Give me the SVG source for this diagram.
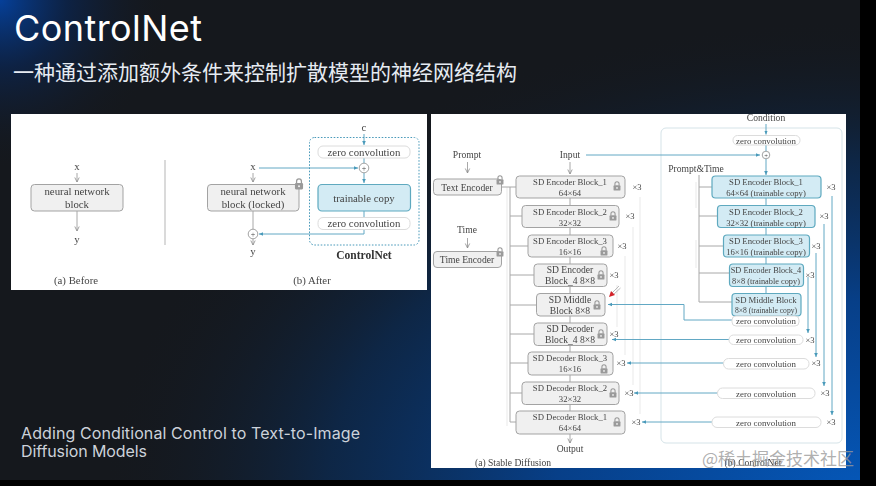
<svg xmlns="http://www.w3.org/2000/svg" width="876" height="486" viewBox="0 0 876 486">
<defs>
<radialGradient id="bgTL" gradientUnits="userSpaceOnUse" cx="0" cy="0" r="170"><stop offset="0" stop-color="#05409a"/><stop offset="0.4" stop-color="#0a2654" stop-opacity=".7"/><stop offset="1" stop-color="#15181d" stop-opacity="0"/></radialGradient>
<radialGradient id="bgBR" gradientUnits="userSpaceOnUse" cx="860" cy="490" r="760" gradientTransform="translate(860 490) scale(1 .62) translate(-860 -490)"><stop offset="0" stop-color="#0557b8"/><stop offset="0.4" stop-color="#073f88"/><stop offset="0.7" stop-color="#0c2a50" stop-opacity=".8"/><stop offset="1" stop-color="#15181d" stop-opacity="0"/></radialGradient>
<filter id="soft" x="0" y="0" width="1" height="1"><feGaussianBlur stdDeviation="0.35"/></filter>
<marker id="ag" markerWidth="7" markerHeight="7" refX="5.500" refY="3" orient="auto" markerUnits="userSpaceOnUse"><path d="M1 .8L5.500 3L1 5.200" fill="none" stroke="#8c8c8c" stroke-width=".8"/></marker>
<marker id="ab" markerWidth="5" markerHeight="5" refX="4" refY="2.500" orient="auto" markerUnits="userSpaceOnUse"><path d="M0 .7L4 2.500L0 4.300z" fill="#4a9aba"/></marker>
<symbol id="lock" viewBox="0 0 10 13" overflow="visible"><path d="M2.300 6V3.600a2.700 2.700 0 0 1 5.400 0V6" fill="none" stroke="#9a9a9a" stroke-width="1.400"/><rect x=".5" y="5.500" width="9" height="7" rx="1.200" fill="#9a9a9a"/><circle cx="5" cy="9" r="1.200" fill="#eee"/></symbol>
</defs>
<style>
text{font-family:"Liberation Serif","Noto Sans CJK SC",serif;fill:#444;text-anchor:middle}
.sm{font-size:8.700px}.lb{font-size:9.600px}.md{font-size:10.800px}.x3{font-size:8.500px}
.zt{font-size:8.900px}
.b{fill:#f0f0f0;stroke:#a3a3a3;stroke-width:1}
.t{fill:#d3ebf4;stroke:#5ea9bf;stroke-width:1.200}
.z{fill:#fff;stroke:#dcdcdc;stroke-width:1}
.g{fill:none;stroke:#a8a8a8;stroke-width:1}
.gf{fill:none;stroke:#e9e9e9;stroke-width:1}
.bl{fill:none;stroke:#62a8c4;stroke-width:1}
.c{fill:#fff;stroke:#8c8c8c;stroke-width:.8}
.head{font-family:Inter,"Liberation Sans","Noto Sans CJK SC",sans-serif;text-anchor:start}
</style>
<rect width="876" height="486" fill="#15181d"/>
<rect width="876" height="486" fill="url(#bgBR)"/>
<rect width="876" height="486" fill="url(#bgTL)"/>
<rect x="860" width="16" height="486" fill="#000"/>
<rect y="480" width="876" height="6" fill="#000"/>
<text class="head" x="14" y="41" font-size="36" textLength="188" style="fill:#fff">ControlNet</text>
<text class="head" x="13" y="80" font-size="21" style="fill:#e6ebf2;font-family:'Noto Sans CJK SC',sans-serif">一种通过添加额外条件来控制扩散模型的神经网络结构</text>
<text class="head" x="21" y="439" font-size="16" textLength="339" style="fill:#ccd2da">Adding Conditional Control to Text-to-Image</text>
<text class="head" x="21" y="457" font-size="16" textLength="126" style="fill:#ccd2da">Diffusion Models</text>

<g id="panel-a" filter="url(#soft)">
<rect x="11" y="114" width="416" height="176" fill="#fff"/>
<g id="connectors-a">
<path class="g" d="M77 173V182" marker-end="url(#ag)"/>
<path class="g" d="M77 211V231" marker-end="url(#ag)"/>
<path d="M165 160V245" stroke="#b5b5b5" fill="none"/>
<path class="g" d="M253 173V182" marker-end="url(#ag)"/>
<path class="g" d="M253 211V229"/>
<path class="g" d="M253 239V245" marker-end="url(#ag)"/>
<path class="bl" d="M259 168H358" marker-end="url(#ab)"/>
<path class="bl" d="M364 134V145" marker-end="url(#ab)"/>
<path class="bl" d="M364 158V163"/>
<path class="bl" d="M364 173V183" marker-end="url(#ab)"/>
<path class="bl" d="M364 211V217"/>
<path class="bl" d="M364 229V234H259" marker-end="url(#ab)"/>
</g>
<text class="md" x="77" y="170">x</text>
<g id="nn-block"><rect class="b" x="31" y="184.500" width="92" height="26.500" rx="3.500"/><text class="md" x="77" y="195">neural network</text><text class="md" x="77" y="208">block</text></g>
<text class="md" x="77" y="243">y</text>
<text class="md" x="253" y="170">x</text>
<g id="nn-locked"><rect class="b" x="207.500" y="184.500" width="91.500" height="26.500" rx="3.500"/><text class="md" x="253" y="195">neural network</text><text class="md" x="253" y="208">block (locked)</text><use href="#lock" x="294.500" y="178" width="9" height="12"/></g>
<g id="plus-y"><circle class="c" cx="253" cy="234" r="4.800"/><text x="253" y="237" font-size="8">+</text></g>
<text class="md" x="253" y="255">y</text>
<g id="controlnet-box"><rect x="309.500" y="137.500" width="109.500" height="107.500" rx="5" fill="none" stroke="#4a9aba" stroke-dasharray="1.600 1.600"/><text x="364" y="259" font-size="11.500" font-weight="bold" style="fill:#333">ControlNet</text></g>
<text class="md" x="364" y="131">c</text>
<g id="zero-a1"><rect class="z" x="318" y="146" width="92" height="12" rx="5"/><text class="md" x="364" y="156">zero convolution</text></g>
<g id="plus-c"><circle class="c" cx="364" cy="168" r="4.800"/><text x="364" y="171" font-size="8">+</text></g>
<g id="trainable"><rect class="t" x="318" y="184.500" width="92.500" height="26.500" rx="4"/><text class="md" x="364" y="202">trainable copy</text></g>
<g id="zero-a2"><rect class="z" x="318" y="217.500" width="92" height="12" rx="5"/><text class="md" x="364" y="227">zero convolution</text></g>
<text class="md" x="76" y="284">(a) Before</text>
<text class="md" x="312" y="284">(b) After</text>
</g>

<g id="panel-b" filter="url(#soft)">
<rect x="431" y="114" width="415" height="354" fill="#fff"/>
<rect x="661" y="128" width="181" height="315" rx="5" fill="none" stroke="#d5e3e8"/>
<g id="connectors-b">
<path class="gf" d="M507 187V426M640 197V414M633 227V385M625 256V355M617 285V327M696 182V208M696 240V268"/>
<path class="g" d="M501 187H516M510 187V422H516M510 216H522M510 246H528M510 275H534M510 305H536M510 334H534M510 363H528M510 393H522"/>
<path class="g" d="M570 198V205M570 227V235M570 257V264M570 286V293M570 316V323M570 345V352M570 375V382M570 404V411"/>
<path class="g" d="M467.500 162V173" marker-end="url(#ag)"/>
<path class="g" d="M467.500 238V248" marker-end="url(#ag)"/>
<path class="g" d="M570 162V174" marker-end="url(#ag)"/>
<path class="g" d="M570 434V443" marker-end="url(#ag)"/>
<path class="g" d="M699 175V302H732M699 187H712M699 216H717M699 246H723M699 273H729"/>
<path class="bl" d="M586 155H760" marker-end="url(#ab)"/>
<path class="bl" d="M766 124V134.500" marker-end="url(#ab)"/>
<path class="bl" d="M766 145V151"/>
<path class="bl" d="M766 159V175" marker-end="url(#ab)"/>
<path class="bl" d="M766 198V205M766 227V235M766 257V264M766 286V293"/>
<path class="bl" d="M808 277V333" marker-end="url(#ab)"/>
<path class="bl" d="M816 253V357" marker-end="url(#ab)"/>
<path class="bl" d="M824 224V386" marker-end="url(#ab)"/>
<path class="bl" d="M832 196V415" marker-end="url(#ab)"/>
<path class="bl" d="M732 320H684V304.500H608" marker-end="url(#ab)"/>
<path class="bl" d="M729 339.500H612" marker-end="url(#ab)"/>
<path class="bl" d="M723.500 363H627" marker-end="url(#ab)"/>
<path class="bl" d="M717.500 393H634" marker-end="url(#ab)"/>
<path class="bl" d="M712 422H642" marker-end="url(#ab)"/>
</g>
<text class="lb" x="467" y="158">Prompt</text>
<text class="lb" x="467" y="233">Time</text>
<text class="lb" x="570" y="158">Input</text>
<text class="lb" x="766" y="121">Condition</text>
<text class="lb" x="696" y="172">Prompt&amp;Time</text>
<text class="lb" x="570" y="452">Output</text>
<text class="lb" x="513" y="466">(a) Stable Diffusion</text>
<text class="lb" x="753" y="466">(b) ControlNet</text>

<g id="text-encoder"><rect class="b" x="433.500" y="179" width="68" height="16" rx="3.500"/><text class="lb" x="467" y="190.500">Text Encoder</text><use href="#lock" x="496" y="175" width="8" height="10"/></g>
<g id="time-encoder"><rect class="b" x="433.500" y="251.500" width="68" height="16" rx="3.500"/><text class="lb" x="467" y="263">Time Encoder</text><use href="#lock" x="496" y="247" width="8" height="10"/></g>

<g id="enc1"><rect class="b" x="516" y="176" width="109" height="22" rx="3.500"/><text class="sm" x="570" y="185">SD Encoder Block_1</text><text class="sm" x="570" y="196">64×64</text><use href="#lock" x="613" y="181" width="8" height="10"/></g>
<g id="enc2"><rect class="b" x="522" y="205.500" width="97" height="22" rx="3.500"/><text class="sm" x="570" y="214.500">SD Encoder Block_2</text><text class="sm" x="570" y="225.500">32×32</text><use href="#lock" x="609" y="211" width="8" height="10"/></g>
<g id="enc3"><rect class="b" x="528" y="235" width="85" height="22" rx="3.500"/><text class="sm" x="570" y="244">SD Encoder Block_3</text><text class="sm" x="570" y="255">16×16</text><use href="#lock" x="600" y="246" width="8" height="10"/></g>
<g id="enc4"><rect class="b" x="534" y="264" width="73" height="22.500" rx="3.500"/><text class="lb" x="570" y="273">SD Encoder</text><text class="lb" x="570" y="284">Block_4 8×8</text><use href="#lock" x="597" y="270" width="8" height="10"/></g>
<g id="middle"><rect class="b" x="536.500" y="293.500" width="68.500" height="22.500" rx="3.500"/><text class="lb" x="570" y="302.500">SD Middle</text><text class="lb" x="570" y="313.500">Block 8×8</text><use href="#lock" x="593" y="300" width="8" height="10"/></g>
<g id="dec4"><rect class="b" x="534" y="323" width="73" height="22.500" rx="3.500"/><text class="lb" x="570" y="332">SD Decoder</text><text class="lb" x="570" y="343">Block_4 8×8</text><use href="#lock" x="597" y="329" width="8" height="10"/></g>
<g id="dec3"><rect class="b" x="528" y="352" width="85" height="23" rx="3.500"/><text class="sm" x="570" y="361">SD Decoder Block_3</text><text class="sm" x="570" y="372">16×16</text><use href="#lock" x="600" y="364" width="8" height="10"/></g>
<g id="dec2"><rect class="b" x="522" y="382" width="97" height="22.500" rx="3.500"/><text class="sm" x="570" y="391">SD Decoder Block_2</text><text class="sm" x="570" y="402">32×32</text><use href="#lock" x="609" y="388" width="8" height="10"/></g>
<g id="dec1"><rect class="b" x="516" y="411" width="109" height="23" rx="3.500"/><text class="sm" x="570" y="420">SD Decoder Block_1</text><text class="sm" x="570" y="431">64×64</text><use href="#lock" x="613" y="417" width="8" height="10"/></g>

<text class="x3" x="637" y="190">×3</text><text class="x3" x="630" y="219">×3</text><text class="x3" x="622" y="249">×3</text><text class="x3" x="614" y="278">×3</text>
<text class="x3" x="614" y="337">×3</text><text class="x3" x="621" y="366">×3</text><text class="x3" x="629" y="396">×3</text><text class="x3" x="636" y="425">×3</text>

<g id="red-pointer"><path d="M619 286L612 293M620.500 288L613 295" stroke="#aaa" fill="none" stroke-width=".8"/><path d="M609 297L611 291L615 295z" fill="#d3242a"/></g>

<g id="zero-cond"><rect class="z" x="733" y="135.500" width="67" height="9.500" rx="4.500"/><text class="zt" x="766" y="143.500">zero convolution</text></g>
<g id="plus-b"><circle class="c" cx="766" cy="155" r="3.800"/><text x="766" y="157.500" font-size="6.500">+</text></g>

<g id="cenc1"><rect class="t" x="712" y="176" width="109" height="22" rx="3.500"/><text class="sm" x="766" y="185">SD Encoder Block_1</text><text class="sm" x="766" y="196">64×64 (trainable copy)</text></g>
<g id="cenc2"><rect class="t" x="717.500" y="205.500" width="97.500" height="22" rx="3.500"/><text class="sm" x="766" y="214.500">SD Encoder Block_2</text><text class="sm" x="766" y="225.500">32×32 (trainable copy)</text></g>
<g id="cenc3"><rect class="t" x="723.500" y="235" width="86" height="22" rx="3.500"/><text class="sm" x="766" y="244">SD Encoder Block_3</text><text class="sm" x="766" y="255">16×16 (trainable copy)</text></g>
<g id="cenc4"><rect class="t" x="729.500" y="264" width="74" height="22.500" rx="3.500"/><text class="sm" x="766" y="273" font-size="8.300" style="font-size:8.300px">SD Encoder Block_4</text><text class="sm" x="766" y="284" style="font-size:8.300px">8×8 (trainable copy)</text></g>
<g id="cmiddle"><rect class="t" x="732" y="293.500" width="69" height="22.500" rx="3.500"/><text class="sm" x="766" y="303">SD Middle Block</text><text x="766" y="313" font-size="7.600">8×8 (trainable copy)</text></g>

<g id="zero1"><rect class="z" x="732" y="316" width="67" height="10" rx="4"/><text class="zt" x="766" y="324">zero convolution</text></g>
<g id="zero2"><rect class="z" x="729" y="335" width="74" height="9.500" rx="4.500"/><text class="zt" x="766" y="343">zero convolution</text></g>
<g id="zero3"><rect class="z" x="723.500" y="358.500" width="85.500" height="10.500" rx="5"/><text class="zt" x="766" y="367">zero convolution</text></g>
<g id="zero4"><rect class="z" x="717.500" y="388" width="97.500" height="10.500" rx="5"/><text class="zt" x="766" y="396.500">zero convolution</text></g>
<g id="zero5"><rect class="z" x="712" y="417" width="109" height="10.500" rx="5"/><text class="zt" x="766" y="425.500">zero convolution</text></g>

<text class="x3" x="831" y="190">×3</text><text class="x3" x="824" y="219">×3</text><text class="x3" x="816" y="249">×3</text><text class="x3" x="810" y="278">×3</text>
<text class="x3" x="810" y="342.500">×3</text><text class="x3" x="816" y="366">×3</text><text class="x3" x="825" y="396">×3</text><text class="x3" x="831" y="425">×3</text>
</g>
<text x="778" y="465" font-size="17" style="font-family:'Noto Sans CJK SC','Liberation Sans',sans-serif;fill:#9a9a9a;fill-opacity:.8">@稀土掘金技术社区</text>
</svg>
